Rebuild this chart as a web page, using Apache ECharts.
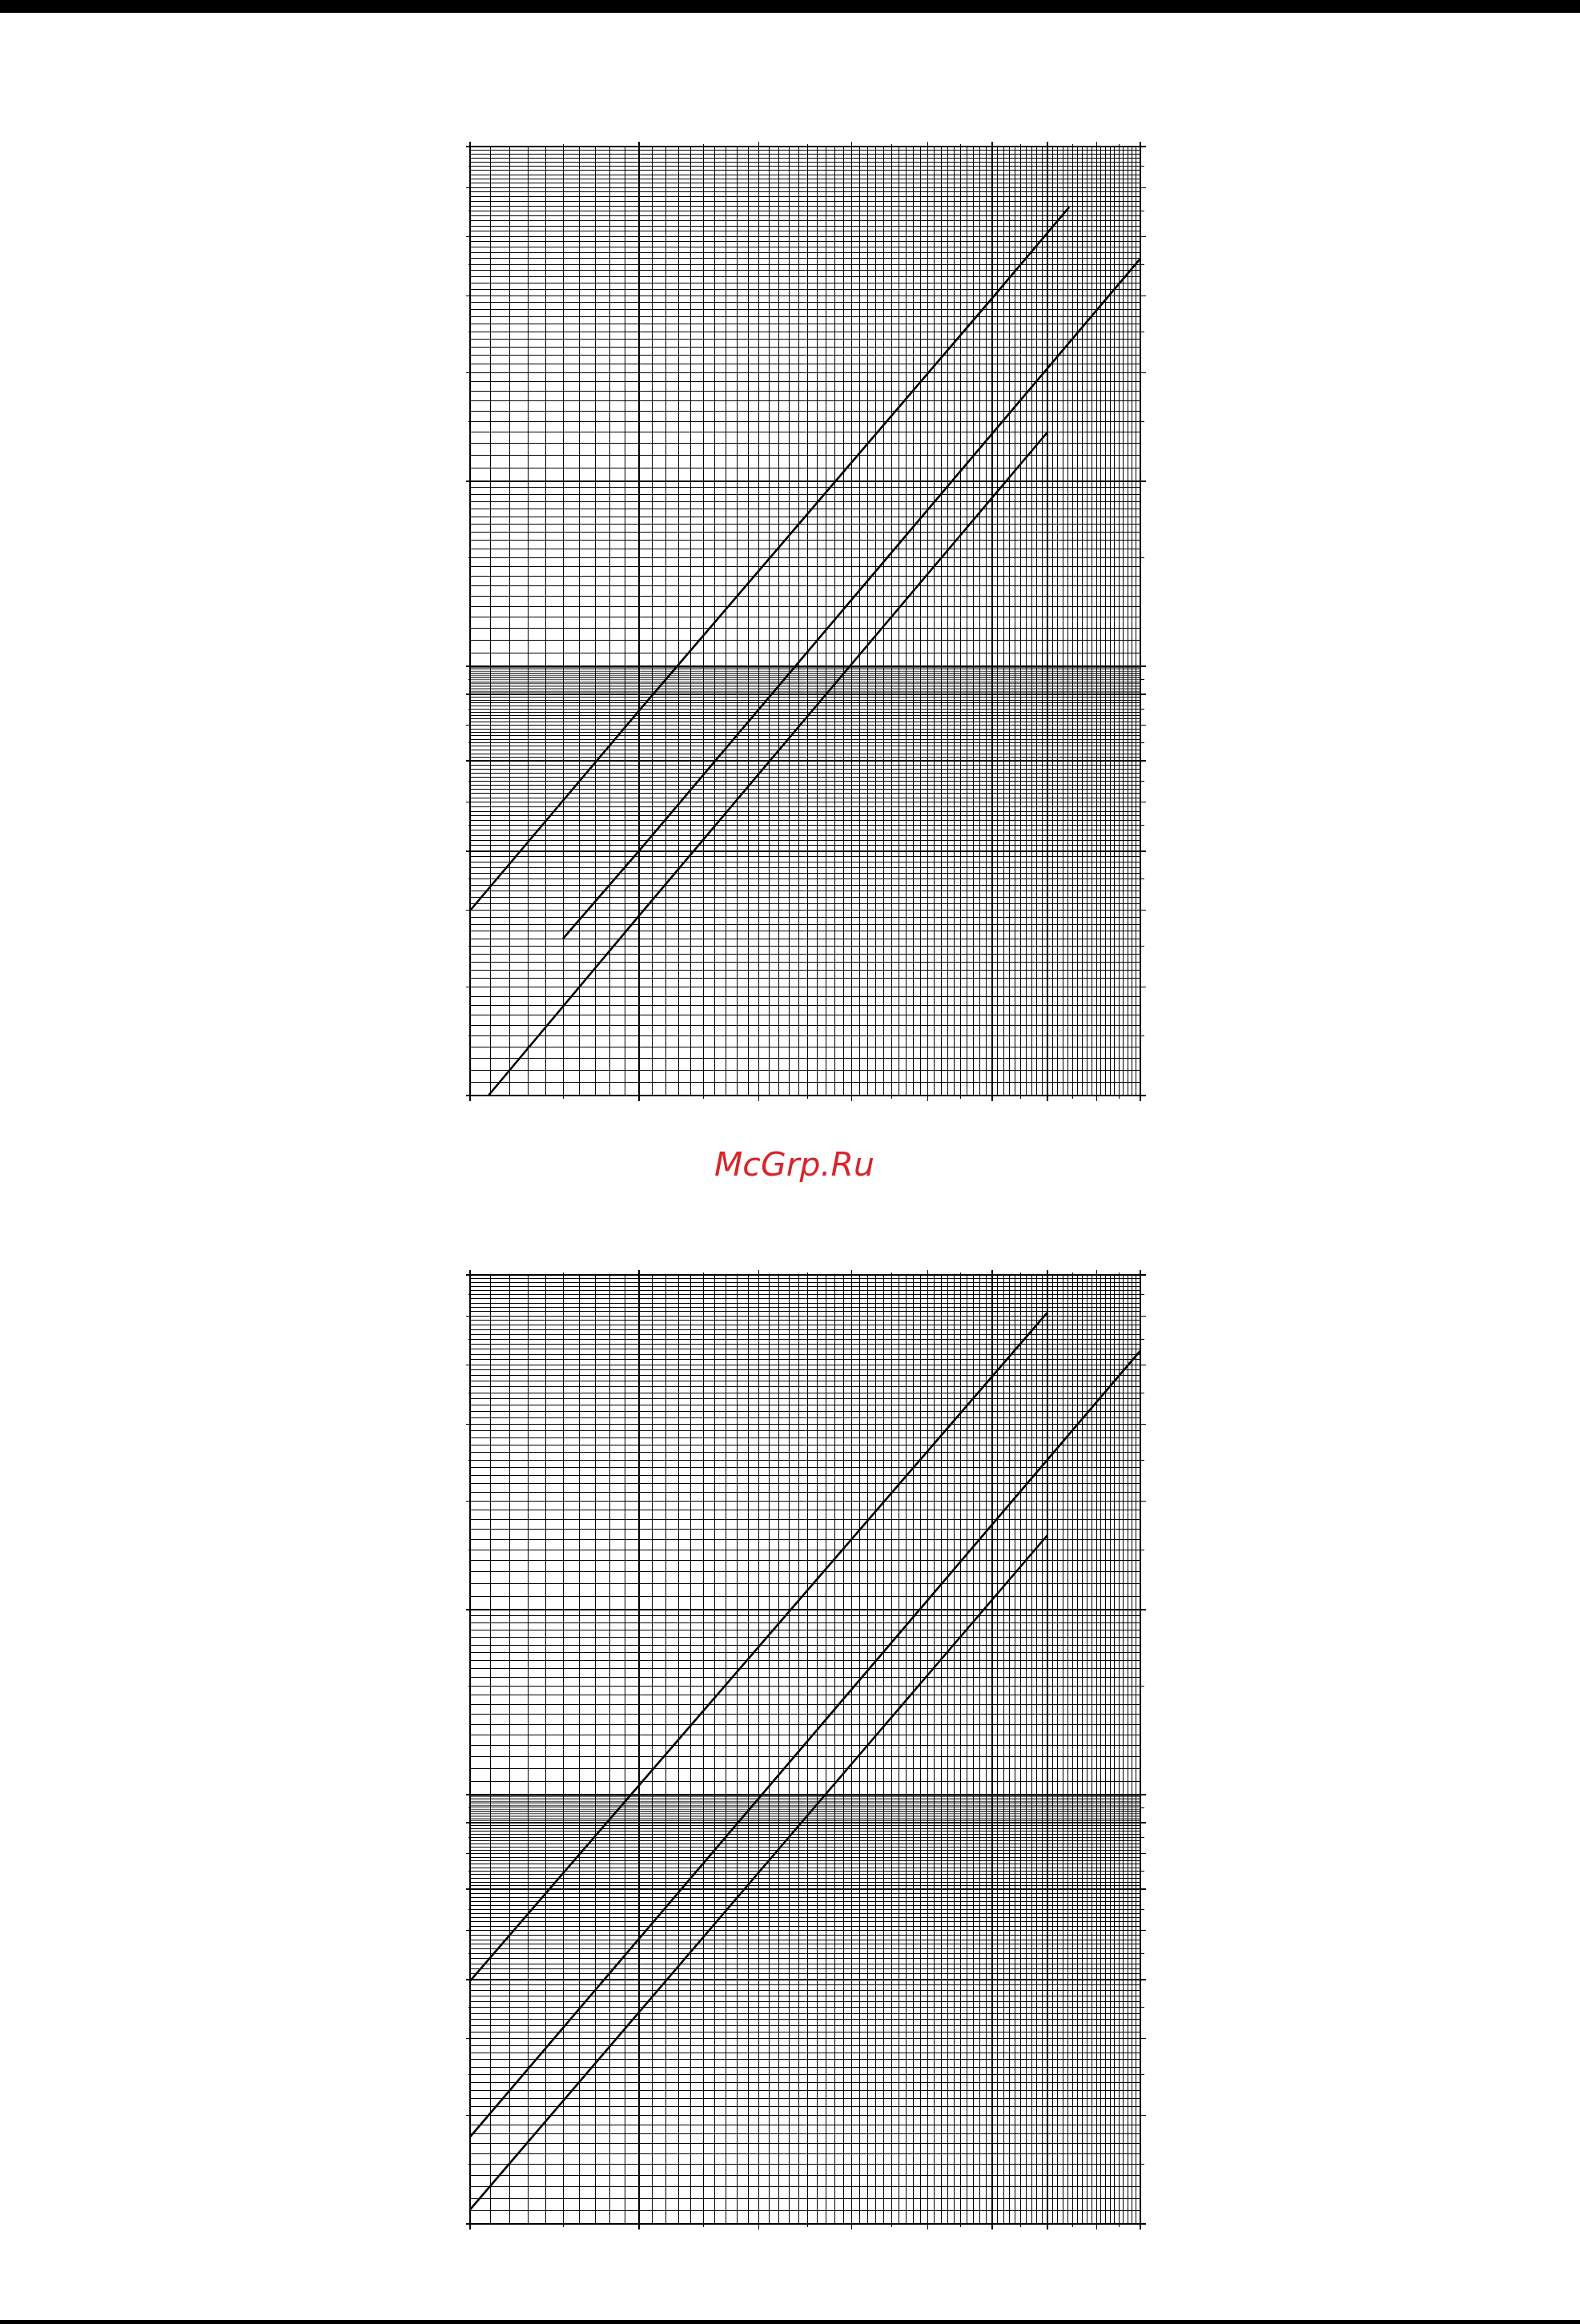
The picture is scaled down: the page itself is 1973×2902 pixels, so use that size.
<!DOCTYPE html>
<html><head><meta charset="utf-8">
<script src="https://cdn.jsdelivr.net/npm/echarts@6/dist/echarts.min.js"></script>
<style>html,body{margin:0;padding:0;background:#fff}#c{width:1973px;height:2902px}</style>
</head><body><div id="c"></div>
<script>
// ---- axis ranges (log-log graph paper) ----
const X_MIN = 2, X_MAX = 10;
const Y_MIN = 0.2, Y_MAX = 7;
// gridline ranges: [from, to, step]
const xGridSteps = [[2, 10, 0.1]];
const yGridSteps = [[0.2, 0.9, 0.01], [1, 2, 0.05], [2, 7, 0.1]];
const yFineSteps = [[0.9, 1, 0.005]];   // dense (grey-looking) band
const xHeavy = [2, 3, 7, 8, 10];
const yHeavy = [0.2, 0.5, 0.7, 0.9, 1, 2, 7];
const xTicksLong = [2, 3, 4, 5, 6, 7, 8, 9, 10];
const xTicksShort = [2.5, 3.5, 4.5, 5.5, 6.5, 7.5, 8.5, 9.5];
const yTicksLong = [0.2, 0.3, 0.4, 0.5, 0.6, 0.7, 0.8, 0.9, 1, 2, 3, 4, 5, 6, 7];
const yTicksShort = [0.25, 0.35, 0.45, 0.55, 0.65, 0.75, 0.85, 0.95, 1.5, 2.5, 3.5, 4.5, 5.5, 6.5];

// ---- curves (x, y) ----
const topLineA = [[2, 0.40], [3, 0.845], [7, 3.96], [8.43, 5.58]];
const topLineB = [[2.5, 0.36], [3, 0.50], [10, 4.60]];
const topLineC = [[2.09, 0.20], [3, 0.392], [8, 2.40]];
const bottomLineD = [[2, 0.497], [8, 6.08]];
const bottomLineE = [[2, 0.277], [10, 5.27]];
const bottomLineF = [[2, 0.211], [8, 2.64]];

function expand(steps) {
  const out = [];
  steps.forEach(([a, b, s]) => {
    const n = Math.round((b - a) / s);
    for (let k = 0; k <= n; k++) {
      const v = +(a + k * s).toFixed(4);
      if (!out.some(o => Math.abs(o - v) < 1e-6)) out.push(v);
    }
  });
  return out;
}
const isIn = (arr, v) => arr.some(o => Math.abs(o - v) < 1e-6);

function gridItems() {
  const items = [];
  const ys = expand(yGridSteps);
  expand(xGridSteps).forEach(x => items.push([x, Y_MIN, x, Y_MAX, isIn(xHeavy, x) ? 2 : 1, 1]));
  ys.forEach(y => items.push([X_MIN, y, X_MAX, y, isIn(yHeavy, y) ? 2 : 1, 1]));
  expand(yFineSteps).forEach(y => { if (!isIn(ys, y)) items.push([X_MIN, y, X_MAX, y, isIn(yHeavy, y) ? 2 : 1, isIn(yHeavy, y) ? 1 : 0.6]); });
  return items;
}
function tickItems() {
  const items = [];
  // dir: 0 up, 1 down, 2 left, 3 right
  xTicksLong.forEach(x => { const w = isIn(xHeavy, x) ? 2 : 1; items.push([x, Y_MAX, 0, 6, w]); items.push([x, Y_MIN, 1, 7, w]); });
  xTicksShort.forEach(x => { items.push([x, Y_MAX, 0, 3, 1]); items.push([x, Y_MIN, 1, 4, 1]); });
  yTicksLong.forEach(y => { const w = isIn(yHeavy, y) ? 2 : 1; items.push([X_MIN, y, 2, 5, w]); items.push([X_MAX, y, 3, 7, w]); });
  yTicksShort.forEach(y => { items.push([X_MIN, y, 2, 2, 1]); items.push([X_MAX, y, 3, 5, 1]); });
  return items;
}
function snap(c, w) { return (w % 2 === 1) ? Math.round(c - 0.5) + 0.5 : Math.round(c); }

function renderGrid(params, api) {
  const p1 = api.coord([api.value(0), api.value(1)]);
  const p2 = api.coord([api.value(2), api.value(3)]);
  const w = api.value(4), op = api.value(5);
  let x1 = p1[0], y1 = p1[1], x2 = p2[0], y2 = p2[1];
  if (Math.abs(x1 - x2) < 0.01) { x1 = x2 = snap(x1, w); y1 = Math.round(y1); y2 = Math.round(y2); }
  else { y1 = y2 = snap(y1, w); x1 = Math.round(x1); x2 = Math.round(x2); }
  return { type: 'line', shape: { x1, y1, x2, y2 }, style: { stroke: '#000', lineWidth: w, opacity: op } };
}
function renderTick(params, api) {
  const p = api.coord([api.value(0), api.value(1)]);
  const dir = api.value(2), len = api.value(3), w = api.value(4);
  let x1 = p[0], y1 = p[1], x2 = x1, y2 = y1;
  if (dir < 2) { x1 = x2 = snap(x1, w); y1 = Math.round(y1); y2 = y1 + (dir === 0 ? -len : len); }
  else { y1 = y2 = snap(y1, w); x1 = Math.round(x1); x2 = x1 + (dir === 2 ? -len : len); }
  return { type: 'line', shape: { x1, y1, x2, y2 }, style: { stroke: '#000', lineWidth: w } };
}

const grids = [
  { left: 587, top: 183, width: 837, height: 1185 },
  { left: 587, top: 1592, width: 837, height: 1185 }
];
const curveSets = [[topLineA, topLineB, topLineC], [bottomLineD, bottomLineE, bottomLineF]];

const xAxes = [], yAxes = [], series = [];
grids.forEach((g, i) => {
  xAxes.push({ type: 'log', logBase: 10, min: X_MIN, max: X_MAX, gridIndex: i, show: false });
  yAxes.push({ type: 'log', logBase: 10, min: Y_MIN, max: Y_MAX, gridIndex: i, show: false });
  series.push({ type: 'custom', xAxisIndex: i, yAxisIndex: i, renderItem: renderGrid, data: gridItems(), silent: true, z: 1, clip: false });
  series.push({ type: 'custom', xAxisIndex: i, yAxisIndex: i, renderItem: renderTick, data: tickItems(), silent: true, z: 1, clip: false });
  curveSets[i].forEach(c => series.push({
    type: 'line', xAxisIndex: i, yAxisIndex: i, data: c, symbol: 'none', showSymbol: false,
    lineStyle: { color: '#000', width: 2.6 }, z: 5, silent: true
  }));
});

const chart = echarts.init(document.getElementById('c'), null, { renderer: 'canvas' });
chart.setOption({
  animation: false,
  backgroundColor: '#fff',
  grid: grids,
  xAxis: xAxes,
  yAxis: yAxes,
  series: series,
  graphic: [
    { type: 'rect', shape: { x: 0, y: 0, width: 1973, height: 16 }, style: { fill: '#000' } },
    { type: 'rect', shape: { x: 0, y: 2897, width: 1973, height: 5 }, style: { fill: '#000' } },
    { type: 'text', x: 992, y: 1457, style: { text: 'McGrp.Ru', fill: '#d7262b', font: 'italic 41px "DejaVu Sans"', textAlign: 'center', textVerticalAlign: 'middle' } }
  ]
});
</script></body></html>
